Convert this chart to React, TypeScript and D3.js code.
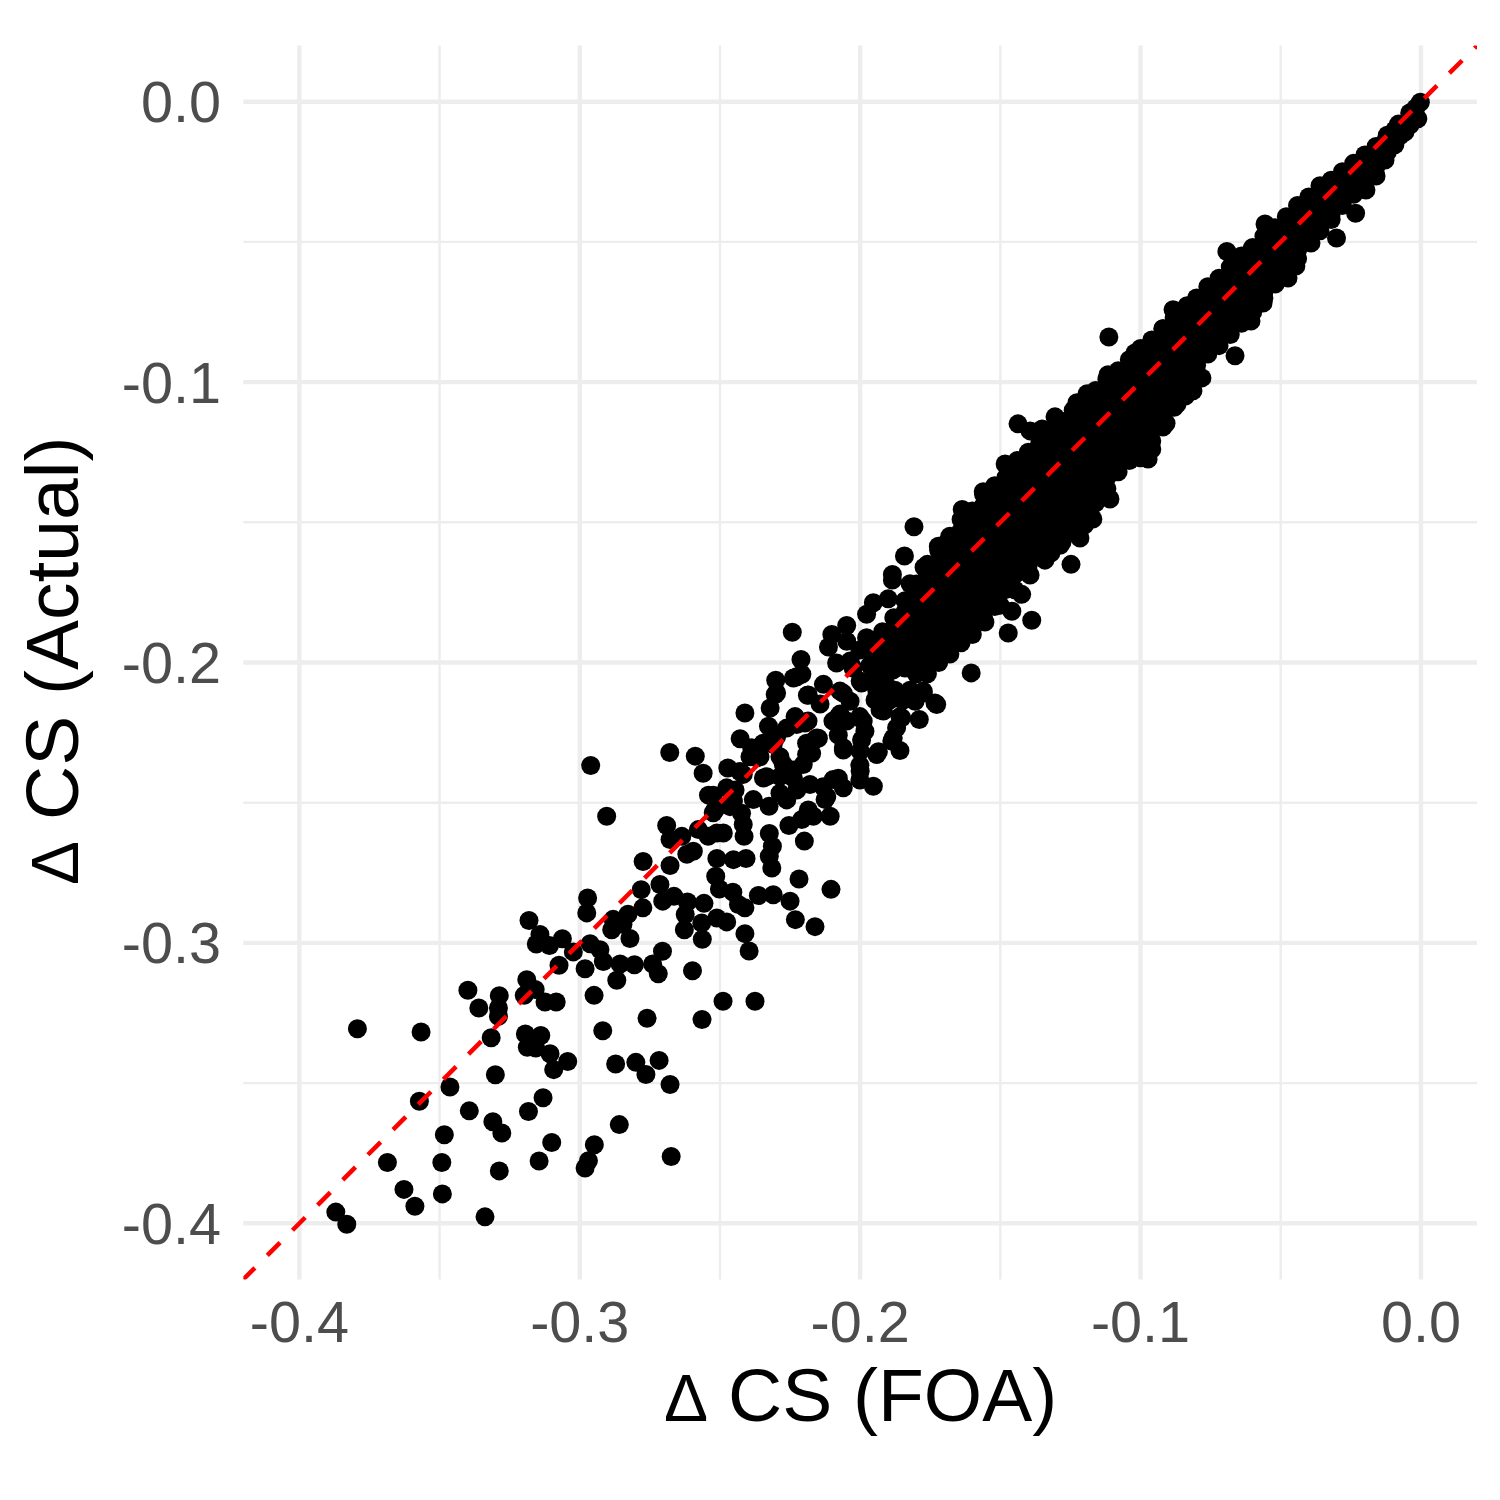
import React from "react";
import * as d3 from "d3";

const xLimits = [-0.42, 0.02];
const yLimits = [-0.42, 0.02];
const majorTicks = [-0.4, -0.3, -0.2, -0.1, 0.0];
const minorTicks = [-0.35, -0.25, -0.15, -0.05];
const titleSymbol = "Δ";
const xTitle = "CS (FOA)";
const yTitle = "CS (Actual)";

// scattered tail, read one by one: [foa, actual]
const tailPoints: [number, number][] = [
[-0.3793,-0.3306],[-0.3566,-0.3318],[-0.3399,-0.3169],[-0.3360,-0.3232],[-0.3287,-0.3188],[-0.3290,-0.3232],[-0.3290,-0.3262],[-0.3316,-0.3338],
[-0.3189,-0.3131],[-0.3198,-0.3187],[-0.3159,-0.3166],[-0.3124,-0.3211],[-0.3084,-0.3211],[-0.3194,-0.3325],[-0.3139,-0.3330],[-0.3187,-0.3372],
[-0.3157,-0.3375],[-0.3106,-0.3395],[-0.3043,-0.3423],[-0.3093,-0.3452],[-0.3301,-0.3470],[-0.3463,-0.3514],[-0.3572,-0.3565],[-0.3394,-0.3599],
[-0.3310,-0.3638],[-0.3278,-0.3678],[-0.3183,-0.3601],[-0.3131,-0.3552],[-0.3483,-0.3684],[-0.3686,-0.3783],[-0.3492,-0.3783],[-0.3287,-0.3813],
[-0.3145,-0.3778],[-0.3100,-0.3712],[-0.2948,-0.3720],[-0.2969,-0.3777],[-0.2981,-0.3803],[-0.2859,-0.3648],[-0.3627,-0.3879],[-0.3588,-0.3939],
[-0.3490,-0.3895],[-0.3338,-0.3977],[-0.3870,-0.3960],[-0.3831,-0.4003],[-0.2872,-0.3432],[-0.2918,-0.3313],[-0.2949,-0.3187],[-0.2800,-0.3426],
[-0.2764,-0.3469],[-0.2717,-0.3419],[-0.2760,-0.3269],[-0.2678,-0.3505],[-0.2674,-0.3762],[-0.2564,-0.3273],[-0.2489,-0.3208],[-0.2375,-0.3208],
];

// looser cluster between -0.32 and -0.24
const clusterPoints: [number, number][] = [
[-0.2972,-0.2840],[-0.2975,-0.2893],[-0.3181,-0.2920],[-0.3142,-0.2970],[-0.3155,-0.3004],[-0.3108,-0.3009],[-0.3062,-0.2985],[-0.3074,-0.3080],
[-0.3023,-0.3032],[-0.2963,-0.3003],[-0.2928,-0.3024],[-0.2981,-0.3092],[-0.2916,-0.3066],[-0.2856,-0.3075],[-0.2868,-0.3133],[-0.2805,-0.3078],
[-0.2886,-0.2953],[-0.2881,-0.2916],[-0.2828,-0.2898],[-0.2821,-0.2984],[-0.2846,-0.2934],[-0.2961,-0.2367],[-0.2904,-0.2548],[-0.2679,-0.2321],
[-0.2588,-0.2334],[-0.2560,-0.2395],[-0.2411,-0.2180],[-0.2321,-0.2162],[-0.2327,-0.2227],[-0.2428,-0.2272],[-0.2387,-0.2304],[-0.2472,-0.2376],
[-0.2417,-0.2399],[-0.2541,-0.2473],[-0.2476,-0.2447],[-0.2524,-0.2536],[-0.2452,-0.2495],[-0.2417,-0.2578],[-0.2414,-0.2620],[-0.2511,-0.2608],
[-0.2488,-0.2608],[-0.2542,-0.2620],[-0.2577,-0.2596],[-0.2690,-0.2581],[-0.2678,-0.2631],[-0.2636,-0.2620],[-0.2595,-0.2673],[-0.2618,-0.2684],
[-0.2678,-0.2724],[-0.2774,-0.2710],[-0.2511,-0.2699],[-0.2452,-0.2703],[-0.2407,-0.2699],[-0.2324,-0.2610],[-0.2313,-0.2655],[-0.2324,-0.2691],
[-0.2315,-0.2733],[-0.2199,-0.2637],[-0.2218,-0.2772],[-0.2104,-0.2809],[-0.2515,-0.2762],[-0.2502,-0.2808],[-0.2454,-0.2819],[-0.2363,-0.2831],
[-0.2310,-0.2828],[-0.2250,-0.2851],[-0.2231,-0.2917],[-0.2161,-0.2942],[-0.2411,-0.2875],[-0.2434,-0.2863],[-0.2411,-0.2967],[-0.2396,-0.3029],
[-0.2557,-0.2859],[-0.2511,-0.2911],[-0.2476,-0.2925],[-0.2565,-0.2929],[-0.2563,-0.2987],[-0.2627,-0.2953],[-0.2624,-0.2899],[-0.2616,-0.2854],
[-0.2664,-0.2834],[-0.2714,-0.2792],[-0.2704,-0.2851],[-0.2781,-0.2810],[-0.2775,-0.2875],[-0.2598,-0.3099],[-0.2740,-0.3075],[-0.2705,-0.3030],
[-0.2720,-0.3110],
];

// patchy zone where the tail meets the dense band
const shoulderPoints: [number, number][] = [
[-0.2226,-0.2221],[-0.2186,-0.2209],[-0.2143,-0.2148],[-0.2097,-0.2209],[-0.2048,-0.2209],[-0.1989,-0.2209],[-0.1917,-0.2173],[-0.2060,-0.2304],
[-0.2000,-0.2316],[-0.1941,-0.2328],[-0.1887,-0.2280],[-0.2000,-0.2388],[-0.1953,-0.2441],[-0.2060,-0.2447],[-0.2107,-0.2548],[-0.2167,-0.2548],
[-0.2254,-0.2581],[-0.2208,-0.2560],[-0.2125,-0.2489],[-0.2179,-0.2435],[-0.2262,-0.2483],[-0.2325,-0.2513],[-0.2381,-0.2489],[-0.2345,-0.2412],
[-0.2274,-0.2364],[-0.2191,-0.2328],[-0.2167,-0.2280],[-0.2310,-0.2292],[-0.2369,-0.2340],[-0.2238,-0.2412],[-0.2203,-0.2364],[-0.1870,-0.2233],
[-0.2242,-0.1892],[-0.2211,-0.1989],[-0.2208,-0.2042],[-0.2238,-0.2055],[-0.2301,-0.2063],[-0.2303,-0.2114],[-0.2188,-0.2117],[-0.2131,-0.2078],
[-0.2101,-0.1900],[-0.2113,-0.1945],[-0.2048,-0.1868],[-0.2048,-0.1924],[-0.1977,-0.1828],[-0.1953,-0.1787],[-0.1977,-0.1912],[-0.1900,-0.1773],
[-0.1885,-0.1686],[-0.1885,-0.1706],[-0.1842,-0.1620],[-0.1808,-0.1516],[-0.1772,-0.1660],[-0.1822,-0.1719],[-0.1721,-0.1585],[-0.1691,-0.1573],
[-0.1636,-0.1454],[-0.1561,-0.1391],[-0.1604,-0.2037],[-0.1472,-0.1895],[-0.1388,-0.1849],[-0.1459,-0.1817],[-0.1424,-0.1757],[-0.1248,-0.1650],
[-0.1727,-0.2150],[-0.1789,-0.2203],[-0.1775,-0.2102],[-0.1852,-0.2132],[-0.1852,-0.2197],[-0.1882,-0.2269],[-0.1858,-0.2314],
[-0.2096,-0.2417],[-0.2155,-0.2269],[-0.2072,-0.2184],[-0.2036,-0.1995],[-0.1965,-0.1959],[-0.1929,-0.2049],[-0.1858,-0.1995],[-0.1804,-0.1924],
[-0.1840,-0.1852],[-0.1890,-0.1930],[-0.2000,-0.2066],[-0.2072,-0.2102],[-0.2036,-0.2138],[-0.1929,-0.2138],[-0.1983,-0.2245],[-0.1804,-0.2138],
[-0.2226,-0.2051],[-0.2298,-0.2109],[-0.2429,-0.2389],[-0.2185,-0.2116],[-0.2232,-0.2193],[-0.2197,-0.2216],[-0.2262,-0.2234],[-0.2298,-0.2265],
[-0.2346,-0.2288],[-0.2357,-0.2336],[-0.2393,-0.2336],[-0.2286,-0.2336],[-0.2191,-0.2288],[-0.2149,-0.2270],[-0.2173,-0.2324],[-0.2239,-0.2383],
[-0.2286,-0.2407],[-0.2333,-0.2407],[-0.2286,-0.2466],[-0.2262,-0.2490],[-0.2226,-0.2455],[-0.2132,-0.2443],[-0.2119,-0.2479],[-0.2185,-0.2526],
[-0.2078,-0.2413],[-0.2001,-0.2419],[-0.2001,-0.2366],[-0.2060,-0.2312],[-0.1995,-0.2276],[-0.1935,-0.2318],[-0.2078,-0.2259],[-0.2001,-0.2193],
[-0.1929,-0.2169],[-0.1858,-0.2193],[-0.1846,-0.2134],[-0.1894,-0.2134],[-0.2078,-0.2193],[-0.2060,-0.2110],[-0.2084,-0.2002],[-0.2025,-0.2020],
[-0.1995,-0.2073],[-0.1941,-0.2098],[-0.1775,-0.2109],[-0.1733,-0.2144],[-0.1901,-0.1980],[-0.1947,-0.2016],[-0.1883,-0.2027],[-0.2524,-0.2473],
[-0.2446,-0.2455],[-0.2518,-0.2526],[-0.2464,-0.2514],[-0.2423,-0.2538],
[-0.1965,-0.2010],[-0.2001,-0.1955],[-0.1929,-0.2009],[-0.1965,-0.2063],[-0.1912,-0.2063],[-0.1876,-0.2099],[-0.1822,-0.2099],[-0.1947,-0.2134],
];

// outline of the dense band
const upperEdge: [number, number][] = [
[-0.1483,-0.1292],[-0.1437,-0.1149],[-0.1394,-0.1174],[-0.1351,-0.1167],[-0.1305,-0.1124],[-0.1359,-0.1246],[-0.1430,-0.1281],[-0.1227,-0.1074],
[-0.1191,-0.1042],[-0.1116,-0.0974],[-0.1020,-0.0896],[-0.1113,-0.0839],[-0.0956,-0.0860],[-0.0920,-0.0810],[-0.0884,-0.0742],[-0.0834,-0.0728],
[-0.0799,-0.0703],[-0.0752,-0.0667],[-0.0692,-0.0534],[-0.0604,-0.0529],[-0.0556,-0.0436],[-0.0449,-0.0422],[-0.0414,-0.0383],[-0.0328,-0.0315],
[-0.0246,-0.0251],[-0.0218,-0.0222],[-0.0128,-0.0143],[-0.0039,-0.0065],[-0.0002,-0.0002],
[-0.0032,-0.0037],[-0.0018,-0.0022],[-0.0093,-0.0101],
];
const lowerEdge: [number, number][] = [
[-0.1216,-0.1556],[-0.1170,-0.1488],[-0.1109,-0.1417],[-0.0973,-0.1274],[-0.0909,-0.1147],[-0.0870,-0.1078],[-0.0813,-0.1031],[-0.0781,-0.0985],
[-0.0663,-0.0906],[-0.0606,-0.0782],[-0.0563,-0.0718],[-0.0474,-0.0629],[-0.0446,-0.0586],[-0.0392,-0.0504],[-0.0301,-0.0486],[-0.0233,-0.0398],
[-0.0196,-0.0315],[-0.0160,-0.0265],[-0.0146,-0.0201],[-0.0075,-0.0122],[-0.0025,-0.0051],
[-0.0039,-0.0083],[-0.0057,-0.0108],[-0.0093,-0.0154],[-0.0128,-0.0208],[-0.0164,-0.0251],[-0.0011,-0.0061],
[-0.1448,-0.1741],[-0.1394,-0.1688],[-0.1341,-0.1635],[-0.1287,-0.1582],[-0.1501,-0.1796],[-0.1555,-0.1856],
];

// dense band, read column by column: [foa, actual values]
const bandColumns: [number, number[]][] = [
[-0.004,[-0.004,-0.006]],
[-0.008,[-0.008,-0.011]],
[-0.012,[-0.012,-0.015,-0.018]],
[-0.016,[-0.016,-0.019,-0.023]],
[-0.020,[-0.019,-0.022,-0.026,-0.029]],
[-0.024,[-0.022,-0.026,-0.030,-0.033]],
[-0.028,[-0.025,-0.029,-0.033,-0.037]],
[-0.032,[-0.028,-0.032,-0.036,-0.040,-0.042]],
[-0.036,[-0.030,-0.034,-0.038,-0.042,-0.046]],
[-0.040,[-0.034,-0.038,-0.042,-0.046,-0.050]],
[-0.044,[-0.037,-0.041,-0.045,-0.049,-0.053,-0.056]],
[-0.048,[-0.041,-0.045,-0.049,-0.053,-0.057,-0.060]],
[-0.052,[-0.045,-0.049,-0.053,-0.057,-0.061,-0.065]],
[-0.056,[-0.048,-0.052,-0.056,-0.060,-0.064,-0.068,-0.070]],
[-0.060,[-0.052,-0.056,-0.060,-0.064,-0.068,-0.072,-0.075]],
[-0.064,[-0.055,-0.059,-0.063,-0.067,-0.071,-0.075,-0.079]],
[-0.068,[-0.059,-0.063,-0.067,-0.071,-0.075,-0.079,-0.083]],
[-0.072,[-0.063,-0.067,-0.071,-0.075,-0.079,-0.083,-0.087]],
[-0.076,[-0.066,-0.070,-0.074,-0.078,-0.082,-0.086,-0.090]],
[-0.080,[-0.070,-0.074,-0.078,-0.082,-0.086,-0.090,-0.094,-0.097]],
[-0.084,[-0.074,-0.078,-0.082,-0.086,-0.090,-0.094,-0.098,-0.101,-0.105]],
[-0.088,[-0.077,-0.081,-0.085,-0.089,-0.093,-0.097,-0.101,-0.105,-0.109]],
[-0.092,[-0.081,-0.085,-0.089,-0.093,-0.097,-0.101,-0.105,-0.109,-0.112,-0.116]],
[-0.096,[-0.085,-0.089,-0.093,-0.097,-0.101,-0.105,-0.109,-0.113,-0.117,-0.121,-0.124]],
[-0.100,[-0.088,-0.092,-0.096,-0.100,-0.104,-0.108,-0.112,-0.116,-0.120,-0.124,-0.127]],
[-0.104,[-0.092,-0.096,-0.100,-0.104,-0.108,-0.112,-0.116,-0.120,-0.124,-0.128]],
[-0.108,[-0.096,-0.100,-0.104,-0.108,-0.112,-0.116,-0.120,-0.124,-0.128,-0.132]],
[-0.112,[-0.099,-0.103,-0.107,-0.111,-0.115,-0.119,-0.123,-0.127,-0.131,-0.134,-0.138]],
[-0.116,[-0.103,-0.107,-0.111,-0.115,-0.119,-0.123,-0.127,-0.131,-0.135,-0.139,-0.143]],
[-0.120,[-0.107,-0.111,-0.115,-0.119,-0.123,-0.127,-0.131,-0.135,-0.139,-0.143,-0.147,-0.151]],
[-0.124,[-0.110,-0.114,-0.118,-0.122,-0.126,-0.130,-0.134,-0.138,-0.142,-0.146,-0.149,-0.153]],
[-0.128,[-0.114,-0.118,-0.122,-0.126,-0.130,-0.134,-0.138,-0.142,-0.146,-0.150,-0.153,-0.157]],
[-0.132,[-0.118,-0.122,-0.126,-0.130,-0.134,-0.138,-0.142,-0.146,-0.150,-0.154,-0.158,-0.161]],
[-0.136,[-0.122,-0.126,-0.130,-0.134,-0.138,-0.142,-0.146,-0.150,-0.154,-0.158,-0.162]],
[-0.140,[-0.125,-0.129,-0.133,-0.137,-0.141,-0.145,-0.149,-0.153,-0.157,-0.161,-0.165]],
[-0.144,[-0.128,-0.132,-0.136,-0.140,-0.144,-0.148,-0.152,-0.156,-0.160,-0.164,-0.168]],
[-0.148,[-0.134,-0.138,-0.142,-0.146,-0.150,-0.154,-0.158,-0.162,-0.166,-0.170,-0.174]],
[-0.152,[-0.137,-0.141,-0.145,-0.149,-0.153,-0.157,-0.161,-0.165,-0.169,-0.173,-0.177,-0.180]],
[-0.156,[-0.140,-0.144,-0.148,-0.152,-0.156,-0.160,-0.164,-0.168,-0.172,-0.176,-0.180,-0.184]],
[-0.160,[-0.146,-0.150,-0.154,-0.158,-0.162,-0.166,-0.170,-0.174,-0.178,-0.182,-0.186,-0.190]],
[-0.164,[-0.149,-0.153,-0.157,-0.161,-0.165,-0.169,-0.173,-0.177,-0.181,-0.185,-0.189,-0.193]],
[-0.168,[-0.155,-0.159,-0.163,-0.167,-0.171,-0.175,-0.179,-0.183,-0.187,-0.191,-0.195,-0.197]],
[-0.172,[-0.160,-0.164,-0.168,-0.172,-0.176,-0.180,-0.184,-0.188,-0.192,-0.196,-0.200]],
[-0.176,[-0.165,-0.169,-0.173,-0.177,-0.181,-0.185,-0.189,-0.193,-0.197,-0.201,-0.204]],
[-0.180,[-0.172,-0.176,-0.180,-0.184,-0.188,-0.192,-0.196,-0.200,-0.204]],
[-0.184,[-0.178,-0.182,-0.186,-0.190,-0.194,-0.198,-0.202]],
[-0.188,[-0.184,-0.188,-0.192,-0.196,-0.200]],
[-0.192,[-0.189,-0.193,-0.197]],
];

const W = 1500;
const H = 1500;
const panel = { left: 243.3, right: 1477, top: 45.6, bottom: 1279.4 };
const font = "'Liberation Sans', Arial, sans-serif";

const bandPoints: [number, number][] = bandColumns.flatMap(([x, ys]) =>
  ys.map((y): [number, number] => [x, y])
);
const allPoints = [...bandPoints, ...upperEdge, ...lowerEdge, ...shoulderPoints, ...clusterPoints, ...tailPoints];

export default function App() {
  const x = d3.scaleLinear().domain(xLimits).range([panel.left, panel.right]);
  const y = d3.scaleLinear().domain(yLimits).range([panel.bottom, panel.top]);
  const fmt = (v: number) => d3.format(".1f")(v).replace("−", "-");
  return (
    <svg width={W} height={H} viewBox={`0 0 ${W} ${H}`} style={{ position: "absolute", left: 0, top: 0, background: "#fff" }}>
      <defs>
        <clipPath id="panel-clip">
          <rect x={panel.left} y={panel.top} width={panel.right - panel.left} height={panel.bottom - panel.top} />
        </clipPath>
      </defs>
      {minorTicks.map((t) => (
        <g key={`minor${t}`} stroke="#ededed" strokeWidth={2.4}>
          <line x1={x(t)} x2={x(t)} y1={panel.top} y2={panel.bottom} />
          <line y1={y(t)} y2={y(t)} x1={panel.left} x2={panel.right} />
        </g>
      ))}
      {majorTicks.map((t) => (
        <g key={`major${t}`} stroke="#ededed" strokeWidth={4.4}>
          <line x1={x(t)} x2={x(t)} y1={panel.top} y2={panel.bottom} />
          <line y1={y(t)} y2={y(t)} x1={panel.left} x2={panel.right} />
        </g>
      ))}
      <g fill="#000">
        {allPoints.map((p, i) => (
          <circle key={i} cx={x(p[0])} cy={y(p[1])} r={9.5} />
        ))}
      </g>
      <line
        x1={x(xLimits[0])}
        y1={y(yLimits[0])}
        x2={x(xLimits[1])}
        y2={y(yLimits[1])}
        stroke="#ff0000"
        strokeWidth={4.5}
        strokeDasharray="18 17.57"
        strokeDashoffset={1.6}
        clipPath="url(#panel-clip)"
      />
      <g fontFamily={font} fontSize={57.6} fill="#4d4d4d">
        {majorTicks.map((t) => (
          <text key={`xl${t}`} x={x(t)} y={1341.5} textAnchor="middle">{fmt(t)}</text>
        ))}
        {majorTicks.map((t) => (
          <text key={`yl${t}`} x={221} y={y(t) + 20.5} textAnchor="end">{fmt(t)}</text>
        ))}
      </g>
      <g fontFamily={font} fill="#000">
        <text x={664} y={1420.7} fontSize={66}>{titleSymbol}</text>
        <text x={728} y={1420.7} fontSize={75}>{xTitle}</text>
        <g transform="translate(78.3,885) rotate(-90)">
          <text x={0} y={0} fontSize={66}>{titleSymbol}</text>
          <text x={65} y={0} fontSize={75}>{yTitle}</text>
        </g>
      </g>
    </svg>
  );
}
